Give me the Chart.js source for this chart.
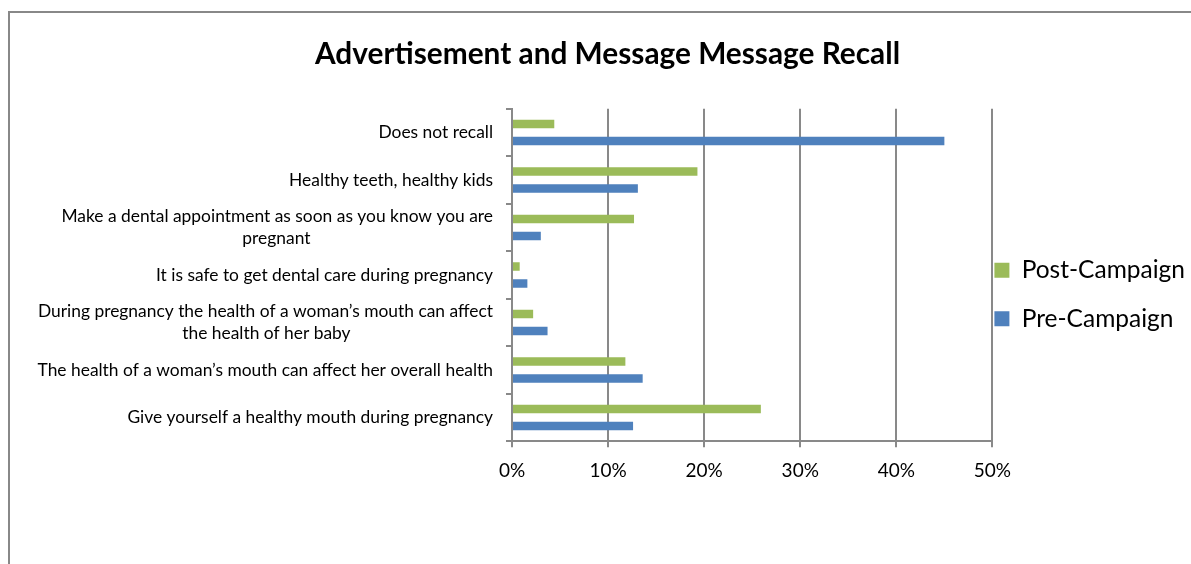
<!DOCTYPE html>
<html>
<head>
<meta charset="utf-8">
<script src="https://cdn.jsdelivr.net/npm/chart.js@4.4.1/dist/chart.umd.min.js"></script>
<style>
  html, body { margin: 0; padding: 0; background: #fff; overflow: hidden; }
  #frame { position: absolute; left: 8px; top: 11px; width: 1300px; height: 700px;
           border-left: 2px solid #888; border-top: 2px solid #888; }
  #wrap { position: absolute; left: 10px; top: 13px; width: 1194px; height: 551px; }
</style>
</head>
<body>
<div id="frame"></div>
<div id="wrap"><canvas id="recallChart"></canvas></div>
<script>
/* ---------- DATA ---------- */
const categories = [
    "Does not recall",
    "Healthy teeth, healthy kids",
    ["Make a dental appointment as soon as you know you are", "pregnant"],
    "It is safe to get dental care during pregnancy",
    ["During pregnancy the health of a woman\u2019s mouth can affect", "the health of her baby"],
    "The health of a woman\u2019s mouth can affect her overall health",
    "Give yourself a healthy mouth during pregnancy"
];
const postCampaign = [4.4, 19.3, 12.7, 0.8, 2.2, 11.8, 25.9];
const preCampaign = [45.0, 13.1, 3.0, 1.6, 3.7, 13.6, 12.6];
const xTicks = [0, 10, 20, 30, 40, 50];

const FONT = "Lato";
const labelFont = { family: FONT, size: 17.4, lineHeight: 1.28 };
const gridGrey = "#898989";

/* ---------- HELPERS ---------- */
// second line of a wrapped label is centred under the first one
const measureCtx = document.createElement("canvas").getContext("2d");
function centreSecondLine(lines) {
    if (!Array.isArray(lines)) return lines;
    measureCtx.font = `${labelFont.size}px ${FONT}`;
    const w1 = measureCtx.measureText(lines[0]).width;
    const w2 = measureCtx.measureText(lines[1]).width;
    const sp = measureCtx.measureText(" ").width;
    const n = Math.max(0, Math.round((w1 - w2) / 2 / sp));
    return [lines[0], lines[1] + " ".repeat(n)];
}

// legend sits closer to the plot and lower than Chart.js puts it,
// title is centred on the frame rather than on the padded canvas
const layoutNudge = {
    id: "layoutNudge",
    afterLayout(chart) {
        const lg = chart.legend;
        lg.left -= 22;
        lg.right -= 22;
        lg.top += 41;
        lg.bottom += 41;
        const tb = chart.titleBlock;
        tb.left -= 11;
        tb.right -= 11;
    }
};

/* ---------- CHART ---------- */
const ctx = document.getElementById("recallChart").getContext("2d");
new Chart(ctx, {
    type: "bar",
    data: {
        labels: categories,
        datasets: [
            {
                label: "Post-Campaign",
                data: postCampaign,
                backgroundColor: "#9BBB59",
                borderWidth: 0
            },
            {
                label: "Pre-Campaign",
                data: preCampaign,
                backgroundColor: "#4F81BD",
                borderWidth: 0
            }
        ]
    },
    options: {
        indexAxis: "y",
        responsive: true,
        maintainAspectRatio: false,
        animation: false,
        categoryPercentage: 0.72,
        barPercentage: 0.5,
        layout: { padding: { left: 10, right: -13, top: 0, bottom: 70 } },
        plugins: {
            title: {
                display: true,
                text: "Advertisement and Message Message Recall",
                color: "#000",
                font: { family: FONT, size: 29.8, weight: "bold", lineHeight: 1.2 },
                padding: { top: 24, bottom: 36 }
            },
            legend: {
                position: "right",
                labels: {
                    color: "#000",
                    font: { family: FONT, size: 24.5 },
                    boxWidth: 15,
                    boxHeight: 15,
                    padding: 24
                }
            },
            tooltip: { enabled: false }
        },
        scales: {
            x: {
                min: 0,
                max: 50,
                afterBuildTicks: s => { s.ticks = xTicks.map(v => ({ value: v })); },
                ticks: {
                    color: "#000",
                    font: { family: FONT, size: 19 },
                    padding: 12,
                    callback: v => v + "%"
                },
                grid: { color: gridGrey, lineWidth: 2, tickLength: 6 },
                border: { color: gridGrey, width: 2 }
            },
            y: {
                afterFit: s => { s.width = 492; },
                ticks: {
                    color: "#000",
                    font: labelFont,
                    padding: 13,
                    autoSkip: false,
                    callback: function (v, i) { return centreSecondLine(categories[i]); }
                },
                grid: { drawOnChartArea: false, offset: true, color: gridGrey, lineWidth: 2, tickLength: 6 },
                border: { color: gridGrey, width: 2 }
            }
        }
    },
    plugins: [layoutNudge]
});
</script>
</body>
</html>
